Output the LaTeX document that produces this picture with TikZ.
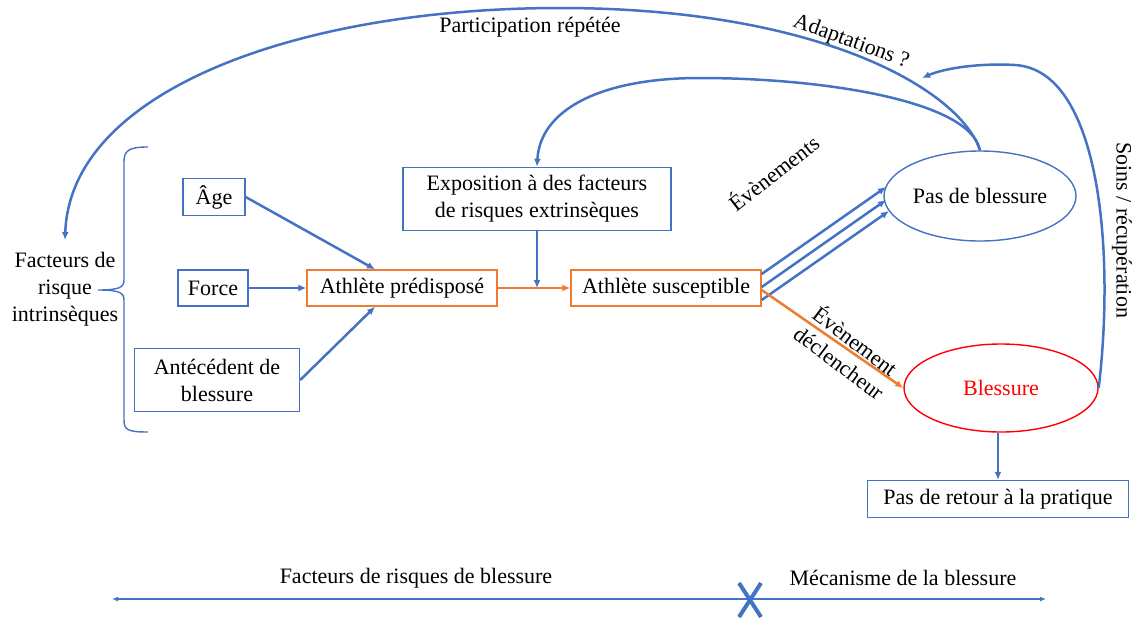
\documentclass[tikz,border=0pt]{standalone}
\usepackage{fontspec}
\setmainfont{Liberation Serif}
\usetikzlibrary{arrows.meta,shapes.geometric,calc}
\definecolor{bl}{RGB}{68,114,196}
\definecolor{org}{RGB}{237,125,49}
\definecolor{rd}{RGB}{255,0,0}
\begin{document}
\begin{tikzpicture}[x=1pt,y=-1pt,
  font=\fontsize{22}{27}\selectfont,
  box/.style={draw=bl,line width=1.4pt,align=center,inner sep=0pt},
  obox/.style={draw=org,line width=1.4pt,align=center,inner sep=0pt},
  conn/.style={draw=bl,line width=2.5pt,-{Latex[length=8pt,width=7pt]}},
  oconn/.style={draw=org,line width=2.5pt,-{Latex[length=8pt,width=7pt]}},
  lbl/.style={inner sep=0pt,align=center}]
\useasboundingbox (0,0) rectangle (1138,619);

% nodes
\node[box,minimum width=62pt,minimum height=37pt] (age) at (214,197) {Âge};
\node[box,minimum width=70pt,minimum height=36pt] (force) at (213,288) {Force};
\node[box,minimum width=165pt,minimum height=63pt] (ant) at (217,380) {Antécédent de\\blessure};
\node[obox,minimum width=190pt,minimum height=36pt] (pred) at (402,288) {Athlète prédisposé};
\node[box,minimum width=268pt,minimum height=63pt] (expo) at (537,199) {Exposition à des facteurs\\de risques extrinsèques};
\node[obox,minimum width=190pt,minimum height=36pt] (sus) at (666,288) {Athlète susceptible};
\node[ellipse,draw=bl,line width=1.4pt,minimum width=192pt,minimum height=90pt,inner sep=0pt] (pdb) at (980,196) {Pas de blessure};
\node[ellipse,draw=rd,line width=1.4pt,minimum width=194pt,minimum height=88pt,inner sep=0pt,text=rd] (bles) at (1001,388) {Blessure};
\node[box,minimum width=261pt,minimum height=37pt] (ret) at (998,499) {Pas de retour à la pratique};
\node[lbl] (fri) at (65,289) {Facteurs de\\risque\\intrinsèques};

% brace
\draw[bl,line width=1.4pt] (148,147) .. controls (128,147) and (124,151) .. (124,162) -- (124,280)
  .. controls (124,287) and (120,290) .. (98,290) .. controls (120,290) and (124,293) .. (124,300)
  -- (124,420) .. controls (124,430) and (128,432) .. (148,432);

% connectors
\draw[conn] (age.east) -- ([xshift=-27pt]pred.north);
\draw[conn] (force.east) -- (pred.west);
\draw[conn] (ant.east) -- ([xshift=-27pt]pred.south);
\draw[oconn] (pred.east) -- (sus.west);
\coordinate (junc) at (expo.south |- pred.east);
\draw[conn] (expo.south) -- (junc);
\draw[conn] ([yshift=14pt]sus.east) -- (886,187);
\draw[conn] ([yshift=1pt]sus.east) -- (886,200);
\draw[conn] ([yshift=-12pt]sus.east) -- (889,211);
\draw[oconn] ([yshift=-2pt]sus.east) -- (bles.west);
\coordinate (bs) at (ret.north |- bles.south);
\draw[conn] (bs) -- (ret.north);

% curves
\draw[conn] (pdb.north) .. controls (970,100) and (820,78) .. (700,78)
  .. controls (600,78) and (540,110) .. (expo.north);
\coordinate (fritop) at (65,240);
\draw[conn] (pdb.north) .. controls (960,90) and (820,8) .. (560,8)
  .. controls (300,8) and (70,90) .. (fritop);
\coordinate (adapt) at (922,78);
\draw[conn] (bles.east) .. controls (1115,250) and (1100,70) .. (1015,65)
  .. controls (980,63) and (945,68) .. (adapt);

% labels
\node[lbl] (lpart) at (530,27) {Participation répétée};
\node[lbl,rotate=-20] (ladapt) at (851,42) {Adaptations ?};
\node[lbl,rotate=38] (lev) at (773,172) {Évènements};
\node[lbl,rotate=-37] (ldecl) at (848,351) {Évènement\\déclencheur};
\node[lbl,rotate=-90] (lsoins) at (1122,230) {Soins / récupération};

% bottom axis
\coordinate (axl) at (112,599);
\coordinate (axr) at (1046,599);
\draw[bl,line width=2.5pt,{Latex[length=6pt,width=5pt]}-{Latex[length=6pt,width=5pt]}] (axl) -- (axr);
\draw[bl,line width=4pt] (739,583) -- (761,617);
\draw[bl,line width=4pt] (761,583) -- (739,617);
\node[lbl] (lfac) at (416,578) {Facteurs de risques de blessure};
\node[lbl] (lmec) at (903,578) {Mécanisme de la blessure};
\end{tikzpicture}
\end{document}
